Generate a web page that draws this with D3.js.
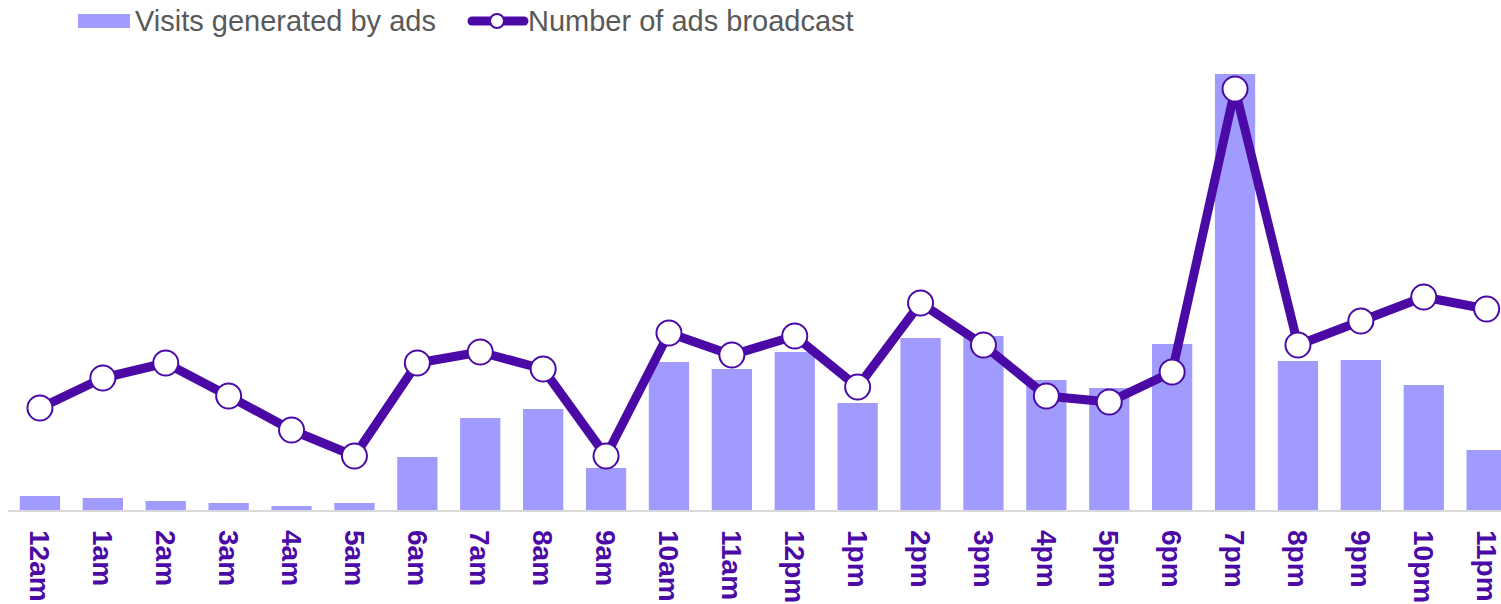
<!DOCTYPE html>
<html>
<head>
<meta charset="utf-8">
<script src="https://cdn.jsdelivr.net/npm/d3@7"></script>
<style>
    body { margin: 0; background: #fff; }
    svg { display: block; font-family: "Liberation Sans", Arial, sans-serif; }
</style>
</head>
<body>
<svg id="chart"></svg>
<script>
const hours = ["12am", "1am", "2am", "3am", "4am", "5am", "6am", "7am", "8am", "9am", "10am", "11am",
    "12pm", "1pm", "2pm", "3pm", "4pm", "5pm", "6pm", "7pm", "8pm", "9pm", "10pm", "11pm"];
const visits = [14, 12, 9, 7, 4, 7, 53, 92, 101, 42, 148, 141, 158, 107, 172, 174, 130, 122, 166, 436, 149, 150, 125, 60];
const adsBroadcast = [102, 132, 147, 114, 80, 54, 147, 158, 141, 54, 177, 155, 174, 123, 207, 165, 114, 108, 138, 421, 165, 189, 213, 201];

const svgWidth = 1501;
const svgHeight = 604;
const baseY = 510;
const purple = "#4b0aa6";
const barColor = "#a29bfe";

const svg = d3.select("#chart")
    .attr("width", svgWidth)
    .attr("height", svgHeight);

// scales
const xScale = d3.scaleBand()
    .domain(hours)
    .range([8.5, 8.5 + 24 * 62.9])
    .paddingInner(0.36)
    .paddingOuter(0.18);

const yScale = d3.scaleLinear()
    .domain([0, 450])
    .range([baseY, 60]);

const yLine = d3.scaleLinear()
    .domain([0, 450])
    .range([baseY, 60]);

// bars
svg.append("g")
    .selectAll("rect")
    .data(visits)
    .join("rect")
    .attr("x", (d, i) => xScale(hours[i]))
    .attr("y", d => yScale(d))
    .attr("width", xScale.bandwidth())
    .attr("height", d => baseY - yScale(d))
    .attr("fill", barColor);

// baseline axis
const xAxis = d3.axisBottom(xScale).tickSize(0).tickPadding(0);
const axisG = svg.append("g")
    .attr("transform", `translate(0, ${baseY + 1})`)
    .call(xAxis);
axisG.select(".domain")
    .attr("d", `M8,0H${svgWidth}`)
    .attr("stroke", "#d9d9d9")
    .attr("stroke-width", 2);
axisG.selectAll(".tick text")
    .attr("transform", "translate(0, 19) rotate(90)")
    .attr("x", 0)
    .attr("y", 0)
    .attr("dy", "0.35em")
    .attr("text-anchor", "start")
    .attr("fill", purple)
    .attr("font-size", "28px")
    .attr("font-weight", "bold")
    .attr("font-family", "'Liberation Sans', Arial, sans-serif");

// line
const cx = (d, i) => xScale(hours[i]) + xScale.bandwidth() / 2;
const line = d3.line()
    .x(cx)
    .y(d => yLine(d));

svg.append("path")
    .datum(adsBroadcast)
    .attr("d", line)
    .attr("fill", "none")
    .attr("stroke", purple)
    .attr("stroke-width", 9)
    .attr("stroke-linejoin", "round");

svg.append("g")
    .selectAll("circle")
    .data(adsBroadcast)
    .join("circle")
    .attr("cx", cx)
    .attr("cy", d => yLine(d))
    .attr("r", 12.5)
    .attr("fill", "#fff")
    .attr("stroke", purple)
    .attr("stroke-width", 2);

// legend
const legend = svg.append("g");
legend.append("rect")
    .attr("x", 78).attr("y", 14)
    .attr("width", 52).attr("height", 14)
    .attr("fill", barColor);
legend.append("text")
    .attr("x", 135).attr("y", 31)
    .attr("font-size", "29px")
    .attr("fill", "#595959")
    .text("Visits generated by ads");
legend.append("line")
    .attr("x1", 472).attr("x2", 524)
    .attr("y1", 21).attr("y2", 21)
    .attr("stroke", purple)
    .attr("stroke-width", 9)
    .attr("stroke-linecap", "round");
legend.append("circle")
    .attr("cx", 497).attr("cy", 21)
    .attr("r", 7)
    .attr("fill", "#fff")
    .attr("stroke", purple)
    .attr("stroke-width", 2);
legend.append("text")
    .attr("x", 528).attr("y", 31)
    .attr("font-size", "29px")
    .attr("fill", "#595959")
    .text("Number of ads broadcast");
</script>
</body>
</html>
